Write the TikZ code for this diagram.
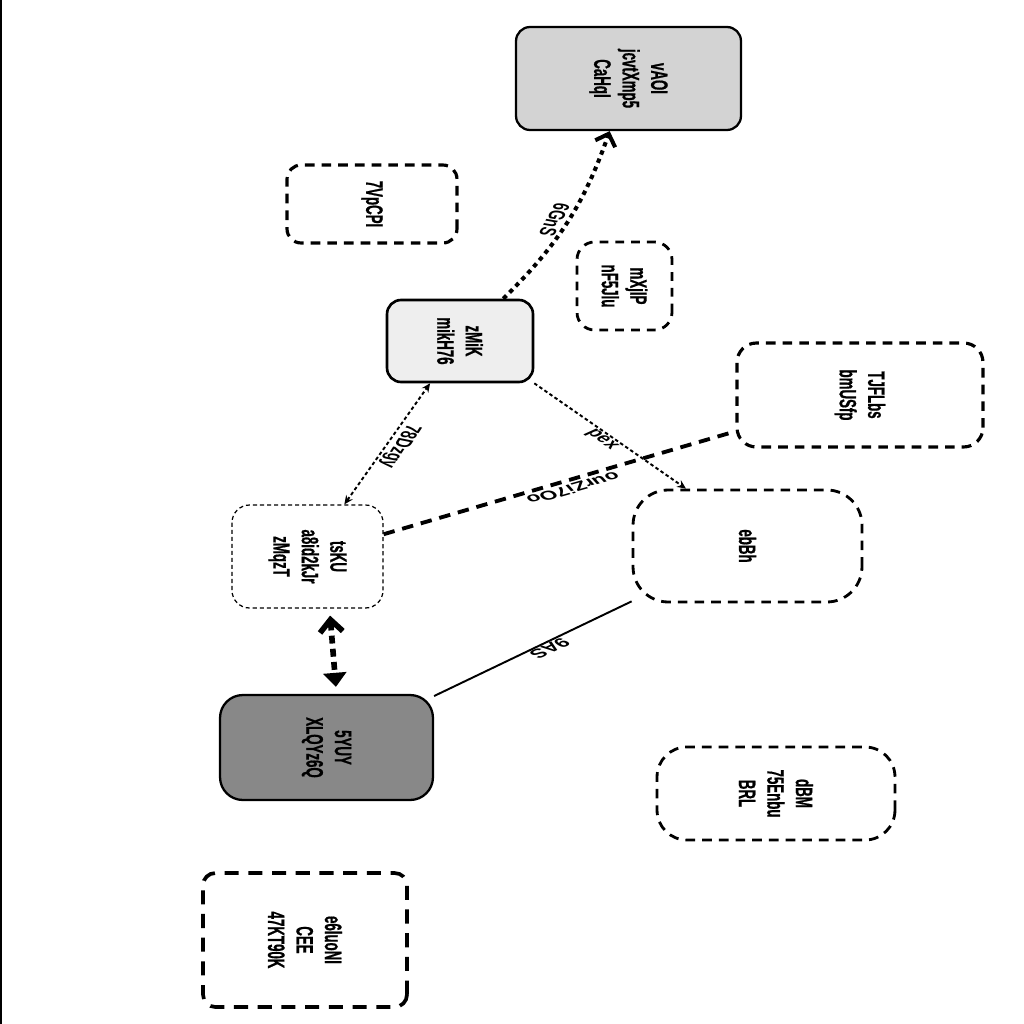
\documentclass[tikz,border=0pt]{standalone}
\usepackage{fontspec}
\usetikzlibrary{arrows.meta}
\newfontfamily\nodefont[FakeStretch=0.56, FakeBold=0.6]{Liberation Sans}
\newfontfamily\labelfont{Liberation Sans}
\definecolor{fillA}{HTML}{D3D3D3}
\definecolor{fillB}{HTML}{EEEEEE}
\definecolor{fillC}{HTML}{888888}

\begin{document}
\begin{tikzpicture}[
    x=0.02cm, y=-0.02cm,
    box/.style={rotate=-90, align=center, inner sep=2pt,
        font=\nodefont\bfseries\fontsize{13.5}{16.2}\selectfont},
    solidbox/.style={box, draw, line width=1.3pt},
    dashbox/.style={box, draw, line width=1.8pt, dash pattern=on 5.5pt off 4pt},
    elabel/.style={font=\labelfont\bfseries\fontsize{13}{15}\selectfont, inner sep=1pt, yscale=0.56},
    thindot/.style={line width=1.1pt, dash pattern=on 2pt off 1.5pt},
    thickdot/.style={line width=2.3pt, dash pattern=on 2.5pt off 2.5pt}
]
    \useasboundingbox (0,0) rectangle (1024,1024);
    \draw[line width=1.2pt] (1,0) -- (1,1024);

    % nodes
    \node[solidbox, fill=fillA, rounded corners=8pt, minimum width=2.06cm, minimum height=4.5cm] (vaoi) at (628.5,78.5) {vAOI\\jcvtXmp5\\CaHqI};
    \node[dashbox, rounded corners=8pt, minimum width=1.56cm, minimum height=3.4cm] (vpcpi) at (372,204) {7VpCPI};
    \node[dashbox, line width=1.6pt, dash pattern=on 5pt off 4pt, rounded corners=10pt, minimum width=1.76cm, minimum height=1.9cm] (mxjip) at (624.5,286) {mXjIP\\nF5Jlu};
    \node[solidbox, fill=fillB, line width=1.5pt, rounded corners=8pt, minimum width=1.64cm, minimum height=2.92cm] (zmik) at (460,341) {zMiK\\mikH76};
    \node[dashbox, rounded corners=11pt, minimum width=2.08cm, minimum height=4.92cm] (tjflbs) at (860,395) {TJFLbs\\bmUSfp};
    \node[box, draw, line width=0.7pt, dash pattern=on 2.3pt off 1.7pt, rounded corners=10pt, minimum width=2.06cm, minimum height=3.02cm] (tsku) at (307.5,556.5) {tsKU\\a8id2kJr\\zMqzT};
    \node[dashbox, line width=1.6pt, rounded corners=20pt, minimum width=2.24cm, minimum height=4.58cm] (ebbh) at (747.5,546) {ebBh};
    \node[solidbox, fill=fillC, rounded corners=13pt, minimum width=2.1cm, minimum height=4.26cm] (yuy) at (326.5,747.5) {5YUY\\XLQYz6Q};
    \node[dashbox, line width=1.6pt, rounded corners=17pt, minimum width=1.86cm, minimum height=4.76cm] (dbm) at (776,793.5) {dBM\\75Enbu\\BRL};
    \node[dashbox, line width=2.1pt, dash pattern=on 8pt off 5.5pt, rounded corners=7pt, minimum width=2.68cm, minimum height=4.08cm] (luoni) at (305,940) {e6luoNI\\CEE\\47KT90K};

    % connectors
    \draw[thindot, {Stealth[length=5pt,width=4.5pt]}-{Stealth[length=5pt,width=4.5pt]}] (tsku) -- node[elabel, rotate=250, anchor=south] {78Dzgy} (zmik);
    \draw[thickdot, -{Straight Barb[length=6pt,width=12pt]}] (zmik) to[bend right=13] node[elabel, rotate=253, anchor=north, inner sep=2pt] {6GnS} (vaoi);
    \draw[thindot, -{Stealth[length=5pt,width=4.5pt]}] (zmik.north east) -- node[elabel, rotate=-51, anchor=north] {pex} (ebbh.227);
    \draw[line width=2.2pt, dash pattern=on 6.5pt off 4.5pt] (tsku) -- node[elabel, rotate=207, anchor=south, pos=0.52, inner sep=3pt] {ourZi7Oo} (tjflbs);
    \draw[line width=3.2pt, dash pattern=on 4.5pt off 3pt, {Straight Barb[length=7pt,width=13pt]}-{Triangle[length=8pt,width=13pt]}, shorten <=4pt, shorten >=4pt] ([xshift=0.44cm]tsku.east) -- ([xshift=0.2cm]yuy.west);
    \draw[line width=1.1pt] (yuy) -- node[elabel, rotate=221, anchor=south, pos=0.55] {9AS} (ebbh);
\end{tikzpicture}
\end{document}
